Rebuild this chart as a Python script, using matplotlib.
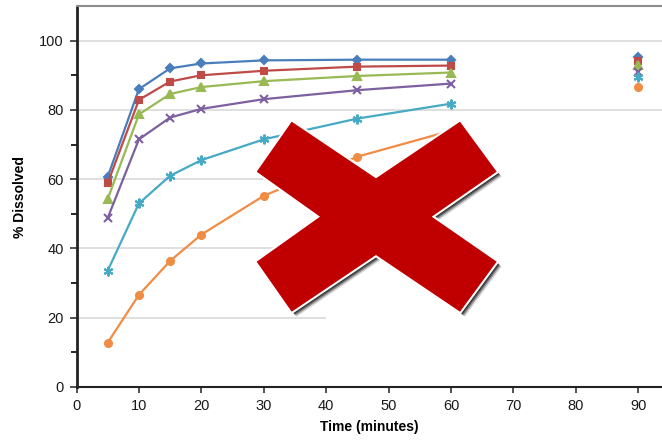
import numpy as np
import matplotlib
matplotlib.use('Agg')
import matplotlib.pyplot as plt
from matplotlib.patches import Polygon, Rectangle

plt.rcParams['font.family'] = ['Liberation Sans', 'DejaVu Sans']

# dissolution profiles
times = [5, 10, 15, 20, 30, 45, 60]
blue = [60.7, 86.0, 92.0, 93.4, 94.3, 94.5, 94.5]
red = [58.9, 82.9, 88.2, 90.0, 91.3, 92.5, 92.8]
green = [54.3, 78.7, 84.6, 86.6, 88.3, 89.8, 90.8]
purple = [48.8, 71.5, 77.8, 80.3, 83.1, 85.7, 87.6]
cyan = [33.6, 53.0, 61.0, 65.5, 71.5, 77.5, 81.8]
orange = [12.8, 26.6, 36.4, 44.0, 55.2, 66.5, 74.0]

# single points at 90 minutes
t_end = 90
end_values = [95.3, 94.0, 93.0, 91.0, 89.5, 86.5]

series = [blue, red, green, purple, cyan, orange]
colors = ['#4A7EBB', '#BE4B48', '#98B954', '#7D60A0', '#46AAC5', '#F08C43']
markers = ['D', 's', '^', 'x', (6, 2, 0), 'o']
sizes = [4.5, 5, 5.5, 6, 7, 5]

fig = plt.figure(figsize=(6.62, 4.42), dpi=100)
ax = fig.add_axes([76.5 / 662, 55 / 442, 1 - 76.5 / 662, 381 / 442])

for vals, c, m, ms, v90 in zip(series, colors, markers, sizes, end_values):
    ax.plot(times, vals, color=c, lw=1.6, marker=m, ms=ms, mew=1.5,
            mec=c, mfc=c, zorder=3)
    ax.plot([t_end], [v90], color=c, marker=m, ms=ms, mew=1.5,
            mec=c, mfc=c, ls='none', zorder=3)

ax.set_xlim(0, 93.8)
ax.set_ylim(0, 110)
ax.set_xticks(np.arange(0, 91, 10))
ax.set_yticks(np.arange(0, 101, 20))
ax.set_yticks(np.arange(10, 100, 20), minor=True)
ax.yaxis.grid(True, color='#d9d9d9', lw=1.2, zorder=0.5)
ax.set_axisbelow(True)

# whited-out area behind the cross
ax.add_patch(Rectangle((40, 2), 60, 63, facecolor='white', edgecolor='none',
                       zorder=1.5))

ax.spines['right'].set_visible(False)
ax.spines['top'].set_color('#8c8c8c')
ax.spines['top'].set_linewidth(1.5)
ax.spines['left'].set_color('#222222')
ax.spines['left'].set_linewidth(2)
ax.spines['bottom'].set_color('#222222')
ax.spines['bottom'].set_linewidth(1.5)

ax.tick_params(axis='both', labelsize=10.5, labelcolor='#1a1a1a',
               color='#333333', direction='out')
ax.tick_params(axis='y', which='major', length=5, width=1.2, pad=4)
ax.tick_params(axis='y', which='minor', length=4, width=1.2)
ax.tick_params(axis='x', length=4, width=1.2, pad=5)

ax.set_xlabel('Time (minutes)', fontsize=10, fontweight='bold', labelpad=5)
ax.set_ylabel('% Dissolved', fontsize=10, fontweight='bold', labelpad=9)

# red cross drawn over the chart (pixel outline)
cross_x = [291.7, 376, 460, 496.7, 431.7, 496.7, 460, 376, 291.7, 256.7,
           320, 256.7]
cross_y = [121.7, 178.3, 121.7, 171.7, 216.7, 261.7, 311.7, 255, 311.7,
           261.7, 216.7, 171.7]


def to_fig(dx=0, dy=0):
    return [((x + dx) / 662, 1 - (y + dy) / 442) for x, y in zip(cross_x, cross_y)]


# soft drop shadow: a few stacked translucent copies
for k, a in [(5, 0.15), (4, 0.3), (3, 0.45), (2, 0.6)]:
    fig.add_artist(Polygon(to_fig(k, k), closed=True, transform=fig.transFigure,
                           facecolor='black', edgecolor='none',
                           alpha=a, zorder=8))
fig.add_artist(Polygon(to_fig(), closed=True, transform=fig.transFigure,
                       facecolor='white', edgecolor='white', lw=3.0,
                       joinstyle='miter', zorder=9))
fig.add_artist(Polygon(to_fig(), closed=True, transform=fig.transFigure,
                       facecolor='#C00000', edgecolor='none', zorder=10))

fig.savefig('out.png', dpi=100)
